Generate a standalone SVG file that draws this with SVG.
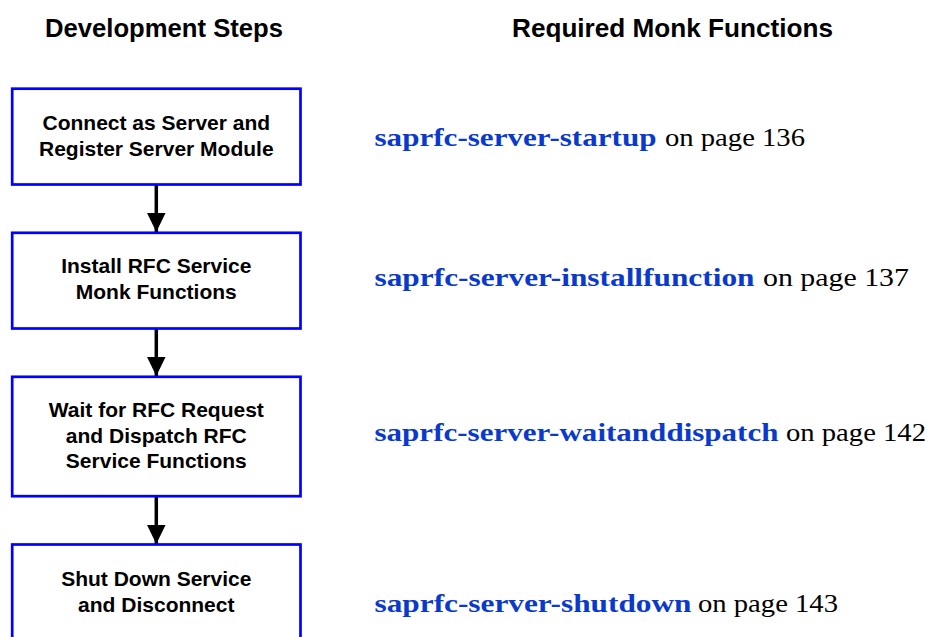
<svg xmlns="http://www.w3.org/2000/svg" width="928" height="637" viewBox="0 0 928 637">
<style>
.hdr{font-family:"Liberation Sans",Arial,sans-serif;font-weight:bold;font-size:26px;fill:#000}
.box{fill:#fff;stroke:#0000ff;stroke-width:2.7}
.bt{font-family:"Liberation Sans",Arial,sans-serif;font-weight:bold;font-size:21px;fill:#000;text-anchor:middle}
.fn{font-family:"Liberation Serif","Times New Roman",serif;font-weight:bold;font-size:26px;fill:#0a3acd}
.pg{font-family:"Liberation Serif","Times New Roman",serif;font-size:26px;fill:#000}
.conn{stroke:#000;stroke-width:3.5;fill:none}
</style>
<defs>
<marker id="ah" markerUnits="userSpaceOnUse" markerWidth="20" markerHeight="20" viewBox="0 0 20 20" refX="19.5" refY="10" orient="auto">
<path d="M0,0.5 L19.5,10 L0,19.5 Z" fill="#000"/>
</marker>
</defs>
<rect width="928" height="637" fill="#fff"/>
<g id="headers">
<text class="hdr" x="45" y="37" textLength="238" lengthAdjust="spacingAndGlyphs">Development Steps</text>
<text class="hdr" x="512" y="37" textLength="321" lengthAdjust="spacingAndGlyphs">Required Monk Functions</text>
</g>
<g id="connectors">
<line class="conn" x1="156.3" y1="185" x2="156.3" y2="232" marker-end="url(#ah)"/>
<line class="conn" x1="156.3" y1="329" x2="156.3" y2="376" marker-end="url(#ah)"/>
<line class="conn" x1="156.3" y1="497" x2="156.3" y2="544" marker-end="url(#ah)"/>
</g>
<g id="step1">
<rect class="box" x="12.2" y="88.7" width="288.3" height="95.8"/>
<text class="bt" x="156.3" y="130">Connect as Server and</text>
<text class="bt" x="156.3" y="156">Register Server Module</text>
</g>
<g id="step2">
<rect class="box" x="12.2" y="232.8" width="288.3" height="95.7"/>
<text class="bt" x="156.3" y="273">Install RFC Service</text>
<text class="bt" x="156.3" y="299">Monk Functions</text>
</g>
<g id="step3">
<rect class="box" x="12.2" y="376.8" width="288.3" height="119.4"/>
<text class="bt" x="156.3" y="417">Wait for RFC Request</text>
<text class="bt" x="156.3" y="443">and Dispatch RFC</text>
<text class="bt" x="156.3" y="468">Service Functions</text>
</g>
<g id="step4">
<rect class="box" x="12.2" y="544.5" width="288.3" height="96"/>
<text class="bt" x="156.3" y="586">Shut Down Service</text>
<text class="bt" x="156.3" y="612">and Disconnect</text>
</g>
<g id="func1">
<text class="fn" x="374.5" y="146" textLength="282" lengthAdjust="spacingAndGlyphs">saprfc-server-startup</text>
<text class="pg" x="665" y="146" textLength="140" lengthAdjust="spacingAndGlyphs">on page 136</text>
</g>
<g id="func2">
<text class="fn" x="374.5" y="286" textLength="380" lengthAdjust="spacingAndGlyphs">saprfc-server-installfunction</text>
<text class="pg" x="763" y="286" textLength="146" lengthAdjust="spacingAndGlyphs">on page 137</text>
</g>
<g id="func3">
<text class="fn" x="374.5" y="441" textLength="404" lengthAdjust="spacingAndGlyphs">saprfc-server-waitanddispatch</text>
<text class="pg" x="786" y="441" textLength="140" lengthAdjust="spacingAndGlyphs">on page 142</text>
</g>
<g id="func4">
<text class="fn" x="374.5" y="612" textLength="317" lengthAdjust="spacingAndGlyphs">saprfc-server-shutdown</text>
<text class="pg" x="698" y="612" textLength="140" lengthAdjust="spacingAndGlyphs">on page 143</text>
</g>
</svg>
